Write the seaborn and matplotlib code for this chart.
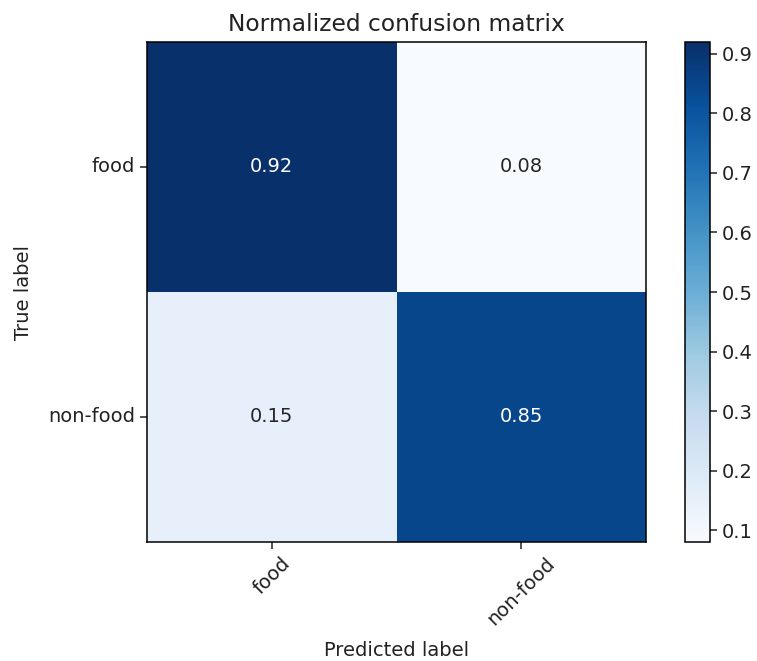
import numpy as np
import pandas as pd
import matplotlib
matplotlib.use("Agg")
import matplotlib.pyplot as plt
import seaborn as sns

# Class names and normalized confusion matrix values
classes = ["food", "non-food"]
row_food = [0.92, 0.08]
row_non_food = [0.15, 0.85]

cm = pd.DataFrame([row_food, row_non_food], index=classes, columns=classes)

plt.rcParams["font.family"] = ["DejaVu Sans"]
plt.rcParams["font.size"] = 14

fig = plt.figure(figsize=(7.57, 6.61), dpi=100)
ax = fig.add_axes([147 / 757, 119 / 661, 499 / 757, 500 / 661])
cax = fig.add_axes([685 / 757, 119 / 661, 25 / 757, 500 / 661])

sns.heatmap(cm, ax=ax, cbar_ax=cax, cmap="Blues", annot=True, fmt=".2f",
            annot_kws={"size": 14}, linewidths=0)

# put the frame back (seaborn strips it)
for sp in ax.spines.values():
    sp.set_visible(True)
    sp.set_linewidth(1.1)
    sp.set_color("black")
cb = ax.collections[0].colorbar
cb.outline.set_visible(True)
cb.outline.set_linewidth(1.1)
cb.outline.set_edgecolor("black")
cb.set_ticks([0.1, 0.2, 0.3, 0.4, 0.5, 0.6, 0.7, 0.8, 0.9])
cb.ax.tick_params(labelsize=14, length=5, width=1.1, colors="#222222")

ax.tick_params(length=5, width=1.1, labelsize=14, colors="#222222")
plt.setp(ax.get_xticklabels(), rotation=45, ha="center")
plt.setp(ax.get_yticklabels(), rotation=0)
ax.set_title("Normalized confusion matrix", fontsize=16.8, pad=8, color="#222222")
ax.set_xlabel("Predicted label", fontsize=14, labelpad=9, color="#222222")
ax.set_ylabel("True label", fontsize=14, labelpad=11, color="#222222")

fig.savefig("out.png", dpi=100)
